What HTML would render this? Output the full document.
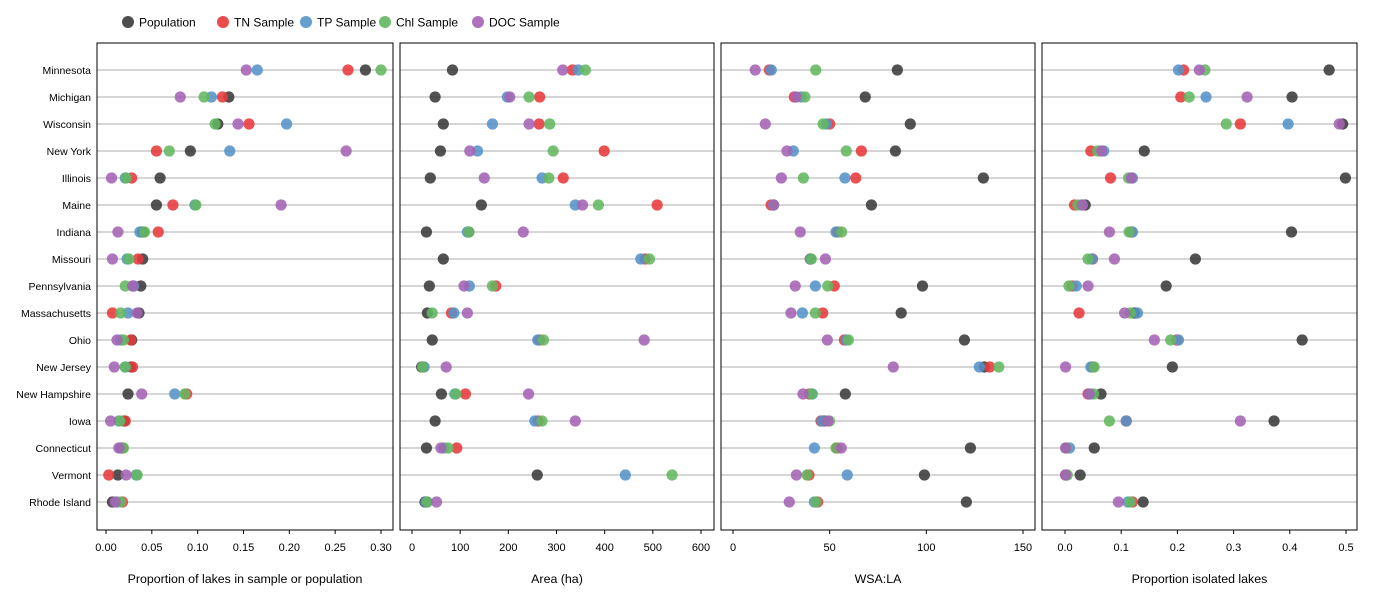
<!DOCTYPE html>
<html><head><meta charset="utf-8"><style>
body{margin:0;background:#fff;}
svg{display:block;font-family:"Liberation Sans",Arial,sans-serif;}
</style></head><body>
<svg id="chart" width="1400" height="600" viewBox="0 0 1400 600"></svg>
<script>
const states=["Minnesota","Michigan","Wisconsin","New York","Illinois","Maine","Indiana","Missouri","Pennsylvania","Massachusetts","Ohio","New Jersey","New Hampshire","Iowa","Connecticut","Vermont","Rhode Island"];
const seriesNames=["Population","TN Sample","TP Sample","Chl Sample","DOC Sample"];
// Panel 1: proportion
const propPop=[0.283,0.134,0.122,0.092,0.059,0.055,0.040,0.040,0.038,0.036,0.028,0.027,0.024,0.020,0.017,0.013,0.007];
const propTN=[0.264,0.127,0.156,0.055,0.028,0.073,0.057,0.035,0.030,0.007,0.027,0.029,0.088,0.021,0.018,0.003,0.018];
const propTP=[0.165,0.115,0.197,0.135,0.021,0.097,0.037,0.023,0.030,0.024,0.016,0.021,0.075,0.014,0.016,0.033,0.012];
const propChl=[0.300,0.107,0.119,0.069,0.022,0.098,0.042,0.025,0.021,0.016,0.019,0.021,0.086,0.015,0.019,0.034,0.016];
const propDOC=[0.153,0.081,0.144,0.262,0.006,0.191,0.013,0.007,0.029,0.034,0.012,0.009,0.039,0.005,0.014,0.022,0.010];
// Panel 2: area
const areaPop=[84,48,65,59,38,144,30,65,36,32,42,20,61,48,30,260,27];
const areaTN=[333,265,264,399,314,509,118,484,174,82,265,23,111,262,93,null,30];
const areaTP=[345,198,167,136,270,339,115,475,119,87,261,25,89,255,66,443,29];
const areaChl=[360,243,286,293,284,387,118,493,167,42,273,22,91,270,75,540,32];
const areaDOC=[313,203,243,120,150,354,231,null,108,115,482,71,242,339,60,null,51];
// Panel 3: WSA:LA
const wsaPop=[85,68.4,91.7,84,129.5,71.6,null,40,98,87,119.7,130,58.1,47,122.8,99,120.7];
const wsaTN=[18.8,31.7,50,66.4,63.5,19.7,54,40,52.4,46.4,57.6,132.8,39.5,45.5,53.8,39.3,43.8];
const wsaTP=[19.8,35.2,48.3,31.2,57.9,21,53.3,40,42.6,35.9,58.6,127.4,41,46,42.1,59.1,42.1];
const wsaChl=[42.8,37.2,46.6,58.6,36.4,21,56.2,40.5,49,42.6,59.7,137.5,40.6,49.9,53.3,38.3,42.9];
const wsaDOC=[11.5,32.6,16.7,27.9,25,21,34.8,47.8,32.2,30,48.8,82.9,36.2,49.1,56,32.8,29.1];
// Panel 4: isolated
const isoPop=[0.470,0.404,0.494,0.141,0.499,0.036,0.403,0.232,0.180,0.124,0.422,0.191,0.064,0.372,0.052,0.027,0.139];
const isoTN=[0.211,0.206,0.312,0.046,0.081,0.017,0.118,0.049,0.013,0.025,0.199,0.049,0.041,0.109,0.002,0.001,0.120];
const isoTP=[0.202,0.251,0.397,0.069,0.120,0.030,0.120,0.048,0.020,0.129,0.202,0.046,0.046,0.109,0.008,0.002,0.112];
const isoChl=[0.249,0.221,0.287,0.058,0.113,0.023,0.114,0.041,0.007,0.116,0.188,0.052,0.051,0.079,0.002,0.004,0.116];
const isoDOC=[0.239,0.324,0.488,0.065,0.118,0.031,0.079,0.088,0.041,0.106,0.159,0.001,0.043,0.312,0.001,0.001,0.095];
const ticks1=[0,0.05,0.10,0.15,0.20,0.25,0.30];
const tickLabels1=["0.00","0.05","0.10","0.15","0.20","0.25","0.30"];
const ticks2=[0,100,200,300,400,500,600];
const ticks3=[0,50,100,150];
const ticks4=[0,0.1,0.2,0.3,0.4,0.5];
const tickLabels4=["0.0","0.1","0.2","0.3","0.4","0.5"];

const colors=["#3a3a3a","#e8393b","#5593c8","#63b760","#a463b4"];
const NS="http://www.w3.org/2000/svg";
const svg=document.getElementById("chart");
function mk(tag,attrs,parent){const e=document.createElementNS(NS,tag);for(const k in attrs)e.setAttribute(k,attrs[k]);(parent||svg).appendChild(e);return e;}

const top0=43,bot0=530,row0=70,rowStep=27;
function yPos(i){return row0+i*rowStep;}

const panels=[
 {name:"proportion",x0:97,x1:393,v0:0,p0:106,v1:0.30,p1:381,ticks:ticks1,labels:tickLabels1,title:"Proportion of lakes in sample or population",data:[propPop,propTN,propTP,propChl,propDOC]},
 {name:"area",x0:400,x1:714,v0:0,p0:412,v1:600,p1:701,ticks:ticks2,labels:ticks2.map(String),title:"Area (ha)",data:[areaPop,areaTN,areaTP,areaChl,areaDOC]},
 {name:"wsa-la",x0:721,x1:1035,v0:0,p0:733,v1:150,p1:1023,ticks:ticks3,labels:ticks3.map(String),title:"WSA:LA",data:[wsaPop,wsaTN,wsaTP,wsaChl,wsaDOC]},
 {name:"isolated",x0:1042,x1:1357,v0:0,p0:1065,v1:0.5,p1:1346,ticks:ticks4,labels:tickLabels4,title:"Proportion isolated lakes",data:[isoPop,isoTN,isoTP,isoChl,isoDOC]}
];

states.forEach((s,i)=>{
  const t=mk("text",{x:91,y:yPos(i)+4,"text-anchor":"end","font-size":"10.5",fill:"#000"});
  
  
  t.textContent=s;
});

panels.forEach(p=>{
  const g=mk("g",{});
  
  
  const sx=v=>p.p0+(v-p.v0)*(p.p1-p.p0)/(p.v1-p.v0);
  states.forEach((s,i)=>{
    const l=mk("line",{x1:p.x0,x2:p.x1,y1:yPos(i),y2:yPos(i),stroke:"#bdbdbd","stroke-width":1.2},g);
    
    
  });
  p.data.forEach((arr,si)=>{
    arr.forEach((v,i)=>{
      if(v===null)return;
      const c=mk("circle",{cx:sx(v),cy:yPos(i),r:5.6,fill:colors[si],"fill-opacity":0.88},g);
      
      
    });
  });
  const r=mk("rect",{x:p.x0,y:top0,width:p.x1-p.x0,height:bot0-top0,fill:"none",stroke:"#000","stroke-width":1},g);
  
  
  p.ticks.forEach((tv,k)=>{
    const x=sx(tv);
    const tk=mk("line",{x1:x,x2:x,y1:bot0,y2:bot0+4,stroke:"#000","stroke-width":1},g);
    
    
    const tl=mk("text",{x:x,y:551,"text-anchor":"middle","font-size":"11",fill:"#000"},g);
    
    
    tl.textContent=p.labels[k];
  });
  const tt=mk("text",{x:(p.x0+p.x1)/2,y:583,"text-anchor":"middle","font-size":"12.4",fill:"#000"},g);
  
  
  tt.textContent=p.title;
});

const legX=[128,223,306,385,478];
const lg=mk("g",{});


seriesNames.forEach((n,i)=>{
  const c=mk("circle",{cx:legX[i],cy:22,r:6,fill:colors[i],"fill-opacity":0.9},lg);
  
  
  const t=mk("text",{x:legX[i]+11,y:26.5,"font-size":"12",fill:"#000"},lg);
  
  
  t.textContent=n;
});
</script>
</body></html>
